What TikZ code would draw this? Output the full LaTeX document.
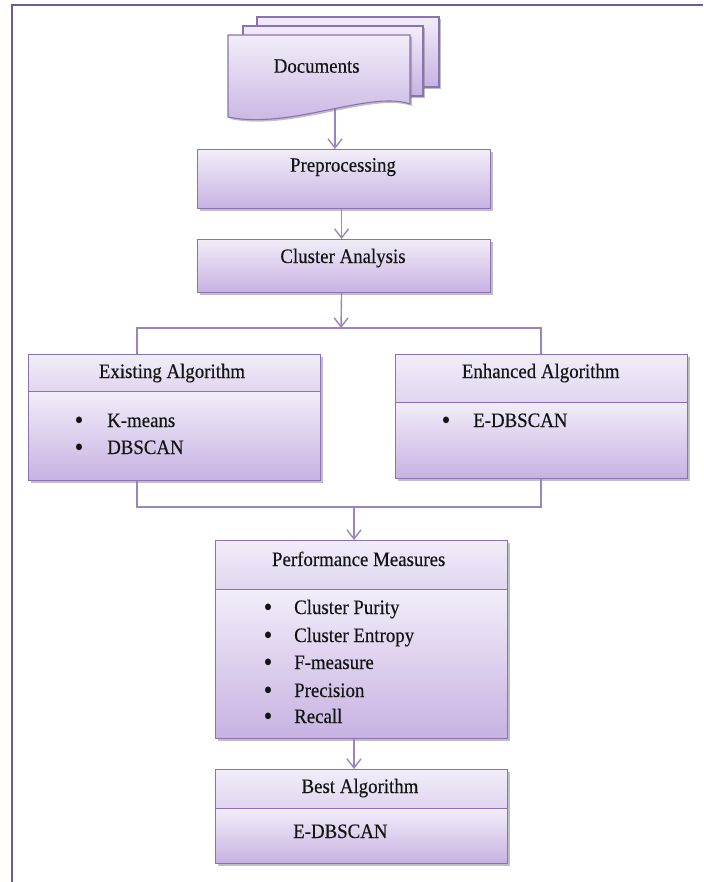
\documentclass[tikz,border=0pt]{standalone}
\usepackage{fontspec}
\setmainfont[FakeStretch=0.92,FakeBold=0.3]{Liberation Serif}
\usetikzlibrary{arrows.meta,shadows}
\definecolor{bord}{HTML}{8B73B2}
\definecolor{topc}{HTML}{F2EDF9}
\definecolor{botc}{HTML}{C7B2E2}
\definecolor{midc}{HTML}{E0D5EF}
\definecolor{conn}{HTML}{9A85BF}
\definecolor{framec}{HTML}{6E5B8F}
\definecolor{txt}{HTML}{141414}
\pgfdeclarelayer{bg}
\pgfsetlayers{bg,main}
\begin{document}
\begin{tikzpicture}[x=1pt,y=-1pt,
  shad/.style={drop shadow={shadow xshift=2pt,shadow yshift=-2pt,fill=black!50,opacity=0.5}},
  boxbase/.style={draw=bord,line width=1.1pt,anchor=north west,inner sep=0pt,shad},
  headbox/.style={boxbase,top color=topc,bottom color=midc},
  bodybox/.style={boxbase,top color=topc,bottom color=botc},
  fullbox/.style={boxbase,top color=topc,bottom color=botc},
  docshape/.style={draw=bord,line width=1.1pt,top color=topc,bottom color=botc,shad},
  lbl/.style={anchor=base,inner sep=0pt,text=txt,font=\fontsize{20.5}{24}\selectfont},
  item/.style={anchor=base west,inner sep=0pt,text=txt,font=\fontsize{20.5}{24}\selectfont},
  bul/.style={anchor=base,inner sep=0pt,text=txt,font=\fontsize{27}{30}\selectfont,yshift=-1.8pt},
  conline/.style={draw=conn,line width=1.4pt},
  arr/.style={conline,-{Straight Barb[length=9pt,width=14pt,line width=1.4pt]}},
  framel/.style={draw=framec,line width=2.2pt}
]
\useasboundingbox (0,0) rectangle (703,882);
\draw[framel] (12,882) -- (12,5) -- (703,5);

% documents stack
\path[docshape] (257,17) rectangle (439,87);
\path[docshape] (243,26) rectangle (423,96);
\path[docshape] (228,35) -- (410,35) -- (410,104) .. controls (370,90) and (290,130) .. (228,117) -- cycle;
\node[lbl] (doctxt) at (316.7,72.7) {Documents};
\coordinate (docs) at (335,105);

% boxes
\node[fullbox,minimum width=293pt,minimum height=59pt] (pre) at (197,149) {};
\node[lbl] (pretxt) at (343,171.7) {Preprocessing};

\node[fullbox,minimum width=293pt,minimum height=53pt] (ca) at (197,239) {};
\node[lbl] (catxt) at (343,263) {Cluster Analysis};

\node[headbox,minimum width=292pt,minimum height=37pt] (exH) at (28,354) {};
\node[bodybox,minimum width=292pt,minimum height=89pt] (exB) at (28,391) {};
\node[lbl] (extxt) at (172,378) {Existing Algorithm};
\node[bul] (exb1) at (79,427) {•};
\node[item] (exi1) at (107,427) {K-means};
\node[bul] (exb2) at (79,454) {•};
\node[item] (exi2) at (107,454) {DBSCAN};

\node[headbox,minimum width=292pt,minimum height=48pt] (enH) at (395,354) {};
\node[bodybox,minimum width=292pt,minimum height=76pt] (enB) at (395,402) {};
\node[lbl] (entxt) at (540.7,378) {Enhanced Algorithm};
\node[bul] (enb1) at (446,427) {•};
\node[item] (eni1) at (473,427) {E-DBSCAN};

\node[headbox,minimum width=292pt,minimum height=49pt] (pmH) at (215,540) {};
\node[bodybox,minimum width=292pt,minimum height=149pt] (pmB) at (215,589) {};
\node[lbl] (pmtxt) at (358.7,566) {Performance Measures};
\node[bul] (pmb1) at (268,614) {•};
\node[item] (pmi1) at (294,614) {Cluster Purity};
\node[bul] (pmb2) at (268,642) {•};
\node[item] (pmi2) at (294,642) {Cluster Entropy};
\node[bul] (pmb3) at (268,669) {•};
\node[item] (pmi3) at (294,669) {F-measure};
\node[bul] (pmb4) at (268,697) {•};
\node[item] (pmi4) at (294,697) {Precision};
\node[bul] (pmb5) at (268,723) {•};
\node[item] (pmi5) at (294,723) {Recall};

\node[headbox,minimum width=292pt,minimum height=39pt] (baH) at (215,769) {};
\node[bodybox,minimum width=292pt,minimum height=55pt] (baB) at (215,808) {};
\node[lbl] (batxt) at (360,793) {Best Algorithm};
\node[item] (bai1) at (293,838) {E-DBSCAN};

% connectors
\coordinate (j1) at (341,328);
\coordinate (j1L) at (137,328);
\coordinate (j1R) at (541,328);
\coordinate (j2) at (354,507);
\coordinate (j2L) at (137,507);
\coordinate (j2R) at (541,507);
\begin{pgfonlayer}{bg}
\draw[arr] (docs) -- (docs |- pre.north);
\end{pgfonlayer}
\draw[arr] ([xshift=-2.5pt]pre.south) -- ([xshift=-2.5pt]ca.north);
\draw[arr] ([xshift=-2.5pt]ca.south) -- (j1);
\draw[conline] (j1L |- exH.north) -- (j1L) -- (j1R) -- (j1R |- enH.north);
\draw[conline] (j2L |- exB.south) -- (j2L) -- (j2R) -- (j2R |- enB.south);
\draw[arr] (j2) -- (j2 |- pmH.north);
\draw[arr] (j2 |- pmB.south) -- (j2 |- baH.north);
\end{tikzpicture}
\end{document}
